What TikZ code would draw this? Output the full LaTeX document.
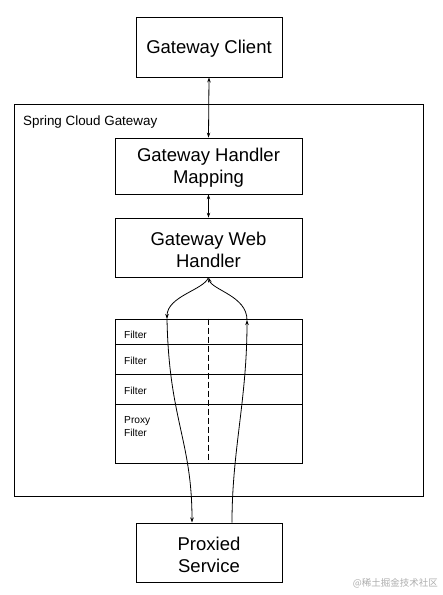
\documentclass[tikz,border=0pt]{standalone}
\usepackage{fontspec}
\setmainfont{Liberation Sans}
\newfontfamily\cjkfont{Noto Sans CJK SC}
\usetikzlibrary{arrows.meta}
\begin{document}
\begin{tikzpicture}[x=1pt,y=-1pt,
  box/.style={draw,line width=0.8pt,inner sep=0pt,align=center,font=\fontsize{18.5}{22}\selectfont},
  ftext/.style={anchor=west,inner sep=0pt,align=left,font=\fontsize{10.2}{13}\selectfont},
  arr/.style={line width=0.8pt,-{Stealth[length=5pt,width=3.5pt]}},
  darr/.style={line width=0.8pt,{Stealth[length=5pt,width=3.5pt]}-{Stealth[length=5pt,width=3.5pt]}}]
\useasboundingbox (0,0) rectangle (443,595);
% outer container
\node[draw,line width=0.8pt,minimum width=409pt,minimum height=392pt,inner sep=0pt] (outer) at (219,300) {};
\node[anchor=west,inner sep=0pt,font=\fontsize{13.4}{16}\selectfont] (sclabel) at (23,122.5) {Spring Cloud Gateway};
% boxes
\node[box,minimum width=146pt,minimum height=60pt] (client) at (209,47) {};
\node[inner sep=0pt,font=\fontsize{18.5}{22}\selectfont] (clientt) at (209,49) {Gateway Client};
\node[box,minimum width=187pt,minimum height=56pt] (mapping) at (208.5,166) {};
\node[inner sep=0pt,align=center,font=\fontsize{18.5}{22}\selectfont] (mappingt) at (208.5,168) {Gateway Handler\\Mapping};
\node[box,minimum width=187pt,minimum height=59pt] (web) at (208.5,247.5) {};
\node[inner sep=0pt,align=center,font=\fontsize{18.5}{22}\selectfont] (webt) at (208.5,250) {Gateway Web\\Handler};
\node[box,minimum width=146pt,minimum height=59pt] (proxied) at (209,552.5) {};
\node[inner sep=0pt,align=center,font=\fontsize{18.5}{22}\selectfont] (proxiedt) at (209,554.5) {Proxied\\Service};
% filter chain
\node[draw,line width=0.8pt,minimum width=187pt,minimum height=144pt,inner sep=0pt] (chain) at (208.5,391) {};
\coordinate (r1) at (115,344); \coordinate (r1e) at (302,344);
\coordinate (r2) at (115,374); \coordinate (r2e) at (302,374);
\coordinate (r3) at (115,404); \coordinate (r3e) at (302,404);
\draw[line width=0.8pt] (r1) -- (r1e) (r2) -- (r2e) (r3) -- (r3e);
\draw[line width=0.8pt,dash pattern=on 6pt off 3pt] (chain.north) -- (chain.south);
\node[ftext] (f1) at (124,335) {Filter};
\node[ftext] (f2) at (124,361) {Filter};
\node[ftext] (f3) at (124,390.5) {Filter};
\node[ftext] (f4) at (124,426.5) {Proxy\\Filter};
% vertical connectors
\draw[darr] (client.south) -- (mapping.north);
\draw[darr] (mapping.south) -- (web.north);
% curved flows
\coordinate (lin) at (167,319);
\coordinate (lout) at (192,522.5);
\coordinate (rin) at (232,522.5);
\coordinate (rout) at (247,320);
\draw[arr] (web.south) .. controls (204,290) and (167,296) .. (lin);
\draw[arr] (lin) .. controls (169,420) and (192,440) .. (lout);
\draw[arr] (rin) .. controls (232,450) and (247,400) .. (rout);
\draw[arr] (rout) .. controls (247,296) and (212,290) .. (web.south);
% watermark
\node[anchor=east,inner sep=0pt,text=black!32,font=\cjkfont\fontsize{9.5}{11}\selectfont] (wm) at (438,583) {@稀土掘金技术社区};
\end{tikzpicture}
\end{document}
